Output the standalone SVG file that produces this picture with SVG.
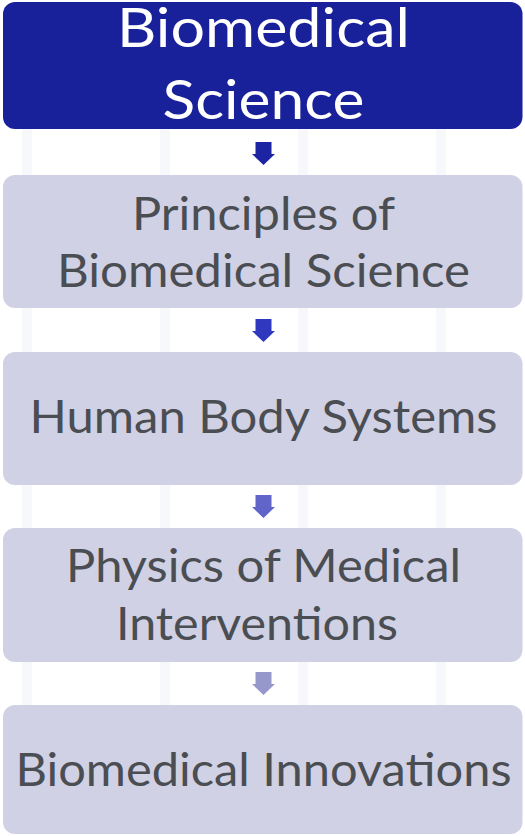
<svg xmlns="http://www.w3.org/2000/svg" width="525" height="836" viewBox="0 0 525 836">
<style>
.bg{fill:#ffffff}
.stripe{fill:#f6f8fc}
.box{fill:#d0d1e4}
.top{fill:#19219a}
.t{font-family:Lato,"Noto Sans",sans-serif;font-size:46px;fill:#4a4d52;text-anchor:middle}
.tw{font-family:Lato,"Noto Sans",sans-serif;font-size:55px;fill:#ffffff;text-anchor:middle}
</style>
<defs>
<path id="arr" d="M-8,0 H8 V12 H11.5 L0,23 L-11.5,12 H-8 Z"/>
</defs>
<rect class="bg" x="0" y="0" width="525" height="836"/>
<g id="background">
<rect class="stripe" x="22" y="120" width="10" height="600"/>
<rect class="stripe" x="160" y="120" width="10" height="600"/>
<rect class="stripe" x="298" y="120" width="10" height="600"/>
<rect class="stripe" x="436" y="120" width="10" height="600"/>
</g>
<g id="connectors">
<use href="#arr" x="263.5" y="142" fill="#1c24a4"/>
<use href="#arr" x="263.5" y="319" fill="#3038c0"/>
<use href="#arr" x="263.5" y="495" fill="#6165c9"/>
<use href="#arr" x="263.5" y="672" fill="#9698cc"/>
</g>
<g id="node1">
<rect class="top" x="3" y="2" width="519.5" height="127" rx="12"/>
<text class="tw" x="263.5" y="47" textLength="293" lengthAdjust="spacingAndGlyphs">Biomedical</text>
<text class="tw" x="263.5" y="119" textLength="202" lengthAdjust="spacingAndGlyphs">Science</text>
</g>
<g id="node2">
<rect class="box" x="3" y="175" width="519.5" height="133" rx="12"/>
<text class="t" x="263.5" y="230" textLength="263" lengthAdjust="spacingAndGlyphs">Principles of</text>
<text class="t" x="263.5" y="287" textLength="413" lengthAdjust="spacingAndGlyphs">Biomedical Science</text>
</g>
<g id="node3">
<rect class="box" x="3" y="352" width="519.5" height="133" rx="12"/>
<text class="t" x="263.5" y="433" textLength="468" lengthAdjust="spacingAndGlyphs">Human Body Systems</text>
</g>
<g id="node4">
<rect class="box" x="3" y="528" width="519.5" height="134" rx="12"/>
<text class="t" x="263.5" y="582" textLength="395" lengthAdjust="spacingAndGlyphs">Physics of Medical</text>
<text class="t" x="257" y="640" textLength="282" lengthAdjust="spacingAndGlyphs">Interventions</text>
</g>
<g id="node5">
<rect class="box" x="3" y="705" width="519.5" height="129" rx="12"/>
<text class="t" x="263.5" y="786" textLength="496" lengthAdjust="spacingAndGlyphs">Biomedical Innovations</text>
</g>
</svg>
